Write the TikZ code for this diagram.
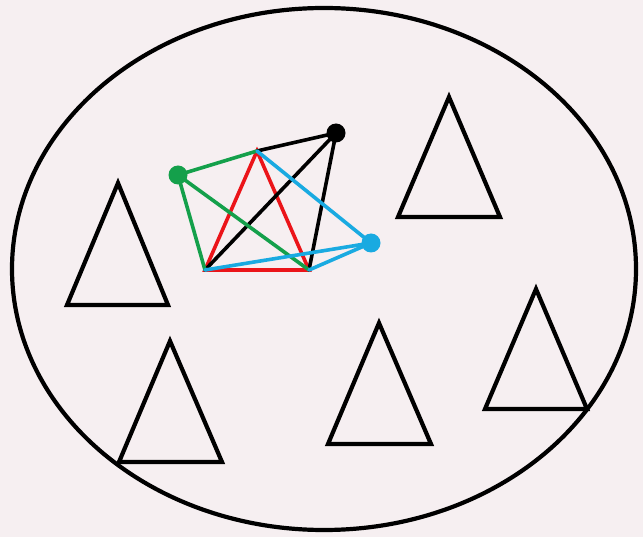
\documentclass[tikz,border=0pt]{standalone}
\definecolor{bg}{RGB}{246,239,241}
\definecolor{myred}{RGB}{235,20,25}
\definecolor{mygreen}{RGB}{20,160,75}
\definecolor{myblue}{RGB}{25,170,225}
\begin{document}
\begin{tikzpicture}[x=1pt,y=-1pt,
  tri/.style={draw=black,line width=4.2pt,line join=miter},
  edge/.style={line width=3.6pt,line cap=round},
  dot/.style={circle,inner sep=0pt,minimum size=19pt}]
\fill[bg] (0,0) rectangle (643,537);
\useasboundingbox (0,0) rectangle (643,537);
% outer ellipse
\draw[line width=4.2pt] (324,269) ellipse [x radius=312, y radius=261];
% triangles
\draw[tri] (118,183) -- (168,305) -- (67,305) -- cycle;
\draw[tri] (449,97) -- (500,217) -- (398,217) -- cycle;
\draw[tri] (170,341) -- (222,462) -- (119,462) -- cycle;
\draw[tri] (379,323) -- (431,444) -- (328,444) -- cycle;
\draw[tri] (536,289) -- (587,409) -- (485,409) -- cycle;
% central structure
\coordinate (A) at (257,151);
\coordinate (L) at (205,270);
\coordinate (R) at (309,270);
\node[dot,fill=black] (K) at (336,133) {};
\node[dot,fill=mygreen] (G) at (178,175) {};
\node[dot,fill=myblue] (B) at (371,243) {};
\draw[edge,myred,line join=miter] (A) -- (L) -- (R) -- cycle;
\draw[edge,black] (K.center) -- (A);
\draw[edge,black] (K.center) -- (L);
\draw[edge,black] (K.center) -- (R);
\draw[edge,mygreen] (G.center) -- (A);
\draw[edge,mygreen] (G.center) -- (L);
\draw[edge,mygreen] (G.center) -- (R);
\draw[edge,myblue] (B.center) -- (A);
\draw[edge,myblue] (B.center) -- (L);
\draw[edge,myblue] (B.center) -- (R);
\end{tikzpicture}
\end{document}
